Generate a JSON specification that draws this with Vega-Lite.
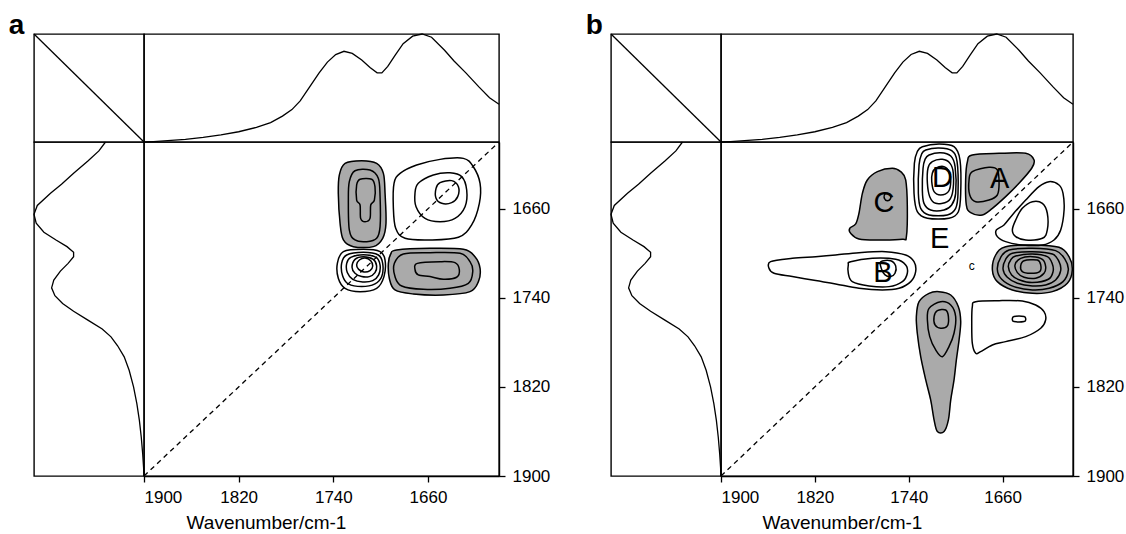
{
"$schema": "https://vega.github.io/schema/vega-lite/v6.json",
"background": "white",
"padding": {"left": 8, "top": 11, "right": 2, "bottom": 2},
"config": {
  "font": "Liberation Sans",
  "view": {"stroke": "black", "strokeWidth": 1.4},
  "axis": {"domainColor": "black", "domainWidth": 1.4, "tickColor": "black", "tickWidth": 1.3, "tickSize": 6, "labelColor": "black", "labelFontSize": 17, "labelPadding": 7, "titleColor": "black", "titleFontSize": 19, "titleFontWeight": "normal", "titlePadding": 8, "grid": false, "format": "d"},
  "title": {"fontSize": 28, "fontWeight": "bold", "anchor": "start", "color": "black", "offset": -9},
  "line": {"color": "black"}
},
"datasets": {
  "spec": [
    {"wn": 1900, "I": 0.0}, {"wn": 1892, "I": 0.004}, {"wn": 1880, "I": 0.012}, {"wn": 1865, "I": 0.025}, {"wn": 1850, "I": 0.042}, {"wn": 1835, "I": 0.065}, {"wn": 1820, "I": 0.095}, {"wn": 1805, "I": 0.135}, {"wn": 1793, "I": 0.18}, {"wn": 1783, "I": 0.24}, {"wn": 1775, "I": 0.30}, {"wn": 1768, "I": 0.38}, {"wn": 1760, "I": 0.51}, {"wn": 1752, "I": 0.64}, {"wn": 1745, "I": 0.74}, {"wn": 1738, "I": 0.81}, {"wn": 1731, "I": 0.84}, {"wn": 1724, "I": 0.82}, {"wn": 1716, "I": 0.76}, {"wn": 1709, "I": 0.69}, {"wn": 1703, "I": 0.64}, {"wn": 1699, "I": 0.64}, {"wn": 1694, "I": 0.70}, {"wn": 1688, "I": 0.80}, {"wn": 1681, "I": 0.91}, {"wn": 1673, "I": 0.98}, {"wn": 1665, "I": 1.0}, {"wn": 1657, "I": 0.97}, {"wn": 1646, "I": 0.85}, {"wn": 1638, "I": 0.75}, {"wn": 1628, "I": 0.64}, {"wn": 1617, "I": 0.51}, {"wn": 1608, "I": 0.41}, {"wn": 1600, "I": 0.35}
  ],
  "ca": [
    {"r":"a1-1","s":"n","l":1,"x":1730.1,"y":1619.2},{"r":"a1-1","s":"n","l":1,"x":1716.0,"y":1616.8},{"r":"a1-1","s":"n","l":1,"x":1703.4,"y":1619.2},{"r":"a1-1","s":"n","l":1,"x":1697.7,"y":1628.2},{"r":"a1-1","s":"n","l":1,"x":1696.3,"y":1646.1},{"r":"a1-1","s":"n","l":1,"x":1695.5,"y":1673.0},{"r":"a1-1","s":"n","l":1,"x":1698.3,"y":1686.5},{"r":"a1-1","s":"n","l":1,"x":1706.2,"y":1694.0},{"r":"a1-1","s":"n","l":1,"x":1723.1,"y":1694.0},{"r":"a1-1","s":"n","l":1,"x":1731.5,"y":1688.0},{"r":"a1-1","s":"n","l":1,"x":1734.3,"y":1673.0},{"r":"a1-1","s":"n","l":1,"x":1735.8,"y":1646.1},{"r":"a1-1","s":"n","l":1,"x":1734.9,"y":1629.6},
    {"r":"a1-2","s":"n","l":2,"x":1721.7,"y":1625.8},{"r":"a1-2","s":"n","l":2,"x":1709.0,"y":1625.2},{"r":"a1-2","s":"n","l":2,"x":1702.0,"y":1632.6},{"r":"a1-2","s":"n","l":2,"x":1700.5,"y":1649.1},{"r":"a1-2","s":"n","l":2,"x":1700.5,"y":1676.0},{"r":"a1-2","s":"n","l":2,"x":1703.4,"y":1686.5},{"r":"a1-2","s":"n","l":2,"x":1711.8,"y":1689.5},{"r":"a1-2","s":"n","l":2,"x":1721.7,"y":1688.0},{"r":"a1-2","s":"n","l":2,"x":1726.5,"y":1679.0},{"r":"a1-2","s":"n","l":2,"x":1727.3,"y":1652.1},{"r":"a1-2","s":"n","l":2,"x":1726.5,"y":1635.6},
    {"r":"a1-3","s":"n","l":3,"x":1717.4,"y":1633.5},{"r":"a1-3","s":"n","l":3,"x":1707.6,"y":1633.5},{"r":"a1-3","s":"n","l":3,"x":1704.8,"y":1640.1},{"r":"a1-3","s":"n","l":3,"x":1705.3,"y":1652.1},{"r":"a1-3","s":"n","l":3,"x":1708.4,"y":1656.6},{"r":"a1-3","s":"n","l":3,"x":1709.0,"y":1668.6},{"r":"a1-3","s":"n","l":3,"x":1713.2,"y":1671.6},{"r":"a1-3","s":"n","l":3,"x":1716.9,"y":1668.6},{"r":"a1-3","s":"n","l":3,"x":1717.4,"y":1656.6},{"r":"a1-3","s":"n","l":3,"x":1720.3,"y":1652.1},{"r":"a1-3","s":"n","l":3,"x":1720.3,"y":1638.6},
    {"r":"a2-1","s":"p","l":1,"x":1683.6,"y":1628.2},{"r":"a2-1","s":"p","l":1,"x":1669.6,"y":1620.7},{"r":"a2-1","s":"p","l":1,"x":1649.8,"y":1615.6},{"r":"a2-1","s":"p","l":1,"x":1630.1,"y":1614.7},{"r":"a2-1","s":"p","l":1,"x":1621.7,"y":1622.2},{"r":"a2-1","s":"p","l":1,"x":1616.0,"y":1637.1},{"r":"a2-1","s":"p","l":1,"x":1616.6,"y":1655.1},{"r":"a2-1","s":"p","l":1,"x":1623.1,"y":1674.5},{"r":"a2-1","s":"p","l":1,"x":1634.3,"y":1685.6},{"r":"a2-1","s":"p","l":1,"x":1658.3,"y":1688.0},{"r":"a2-1","s":"p","l":1,"x":1679.4,"y":1686.5},{"r":"a2-1","s":"p","l":1,"x":1687.3,"y":1677.5},{"r":"a2-1","s":"p","l":1,"x":1689.3,"y":1658.1},{"r":"a2-1","s":"p","l":1,"x":1688.7,"y":1637.1},
    {"r":"a2-2","s":"p","l":2,"x":1668.2,"y":1637.1},{"r":"a2-2","s":"p","l":2,"x":1655.5,"y":1629.6},{"r":"a2-2","s":"p","l":2,"x":1641.4,"y":1627.6},{"r":"a2-2","s":"p","l":2,"x":1631.5,"y":1631.1},{"r":"a2-2","s":"p","l":2,"x":1627.3,"y":1643.1},{"r":"a2-2","s":"p","l":2,"x":1628.7,"y":1658.1},{"r":"a2-2","s":"p","l":2,"x":1637.2,"y":1668.6},{"r":"a2-2","s":"p","l":2,"x":1649.8,"y":1671.6},{"r":"a2-2","s":"p","l":2,"x":1662.5,"y":1668.6},{"r":"a2-2","s":"p","l":2,"x":1670.1,"y":1658.1},{"r":"a2-2","s":"p","l":2,"x":1671.0,"y":1646.1},
    {"r":"a2-3","s":"p","l":3,"x":1649.8,"y":1636.5},{"r":"a2-3","s":"p","l":3,"x":1640.0,"y":1634.7},{"r":"a2-3","s":"p","l":3,"x":1634.3,"y":1640.1},{"r":"a2-3","s":"p","l":3,"x":1634.9,"y":1649.1},{"r":"a2-3","s":"p","l":3,"x":1640.0,"y":1654.5},{"r":"a2-3","s":"p","l":3,"x":1648.4,"y":1655.1},{"r":"a2-3","s":"p","l":3,"x":1653.2,"y":1650.6},{"r":"a2-3","s":"p","l":3,"x":1653.2,"y":1641.6},
    {"r":"a3-1","s":"p","l":1,"x":1731.5,"y":1698.5},{"r":"a3-1","s":"p","l":1,"x":1714.6,"y":1696.4},{"r":"a3-1","s":"p","l":1,"x":1700.5,"y":1698.5},{"r":"a3-1","s":"p","l":1,"x":1696.3,"y":1706.0},{"r":"a3-1","s":"p","l":1,"x":1697.2,"y":1720.9},{"r":"a3-1","s":"p","l":1,"x":1703.4,"y":1731.4},{"r":"a3-1","s":"p","l":1,"x":1717.4,"y":1734.4},{"r":"a3-1","s":"p","l":1,"x":1730.1,"y":1731.4},{"r":"a3-1","s":"p","l":1,"x":1735.8,"y":1722.4},{"r":"a3-1","s":"p","l":1,"x":1736.6,"y":1709.0},
    {"r":"a3-2","s":"p","l":2,"x":1728.7,"y":1701.5},{"r":"a3-2","s":"p","l":2,"x":1714.6,"y":1699.1},{"r":"a3-2","s":"p","l":2,"x":1702.0,"y":1701.5},{"r":"a3-2","s":"p","l":2,"x":1698.3,"y":1709.0},{"r":"a3-2","s":"p","l":2,"x":1699.1,"y":1720.9},{"r":"a3-2","s":"p","l":2,"x":1704.8,"y":1727.5},{"r":"a3-2","s":"p","l":2,"x":1716.0,"y":1729.9},{"r":"a3-2","s":"p","l":2,"x":1727.3,"y":1727.5},{"r":"a3-2","s":"p","l":2,"x":1732.1,"y":1720.3},{"r":"a3-2","s":"p","l":2,"x":1733.0,"y":1709.0},
    {"r":"a3-3","s":"p","l":3,"x":1725.3,"y":1703.6},{"r":"a3-3","s":"p","l":3,"x":1714.6,"y":1701.2},{"r":"a3-3","s":"p","l":3,"x":1703.9,"y":1703.6},{"r":"a3-3","s":"p","l":3,"x":1700.5,"y":1710.5},{"r":"a3-3","s":"p","l":3,"x":1701.7,"y":1719.4},{"r":"a3-3","s":"p","l":3,"x":1706.7,"y":1724.5},{"r":"a3-3","s":"p","l":3,"x":1715.2,"y":1725.7},{"r":"a3-3","s":"p","l":3,"x":1723.6,"y":1723.3},{"r":"a3-3","s":"p","l":3,"x":1728.2,"y":1717.3},{"r":"a3-3","s":"p","l":3,"x":1728.7,"y":1709.0},
    {"r":"a3-4","s":"p","l":4,"x":1721.7,"y":1705.4},{"r":"a3-4","s":"p","l":4,"x":1714.6,"y":1703.0},{"r":"a3-4","s":"p","l":4,"x":1706.2,"y":1705.4},{"r":"a3-4","s":"p","l":4,"x":1703.4,"y":1711.4},{"r":"a3-4","s":"p","l":4,"x":1704.8,"y":1717.3},{"r":"a3-4","s":"p","l":4,"x":1709.6,"y":1720.9},{"r":"a3-4","s":"p","l":4,"x":1716.0,"y":1720.9},{"r":"a3-4","s":"p","l":4,"x":1721.7,"y":1717.9},{"r":"a3-4","s":"p","l":4,"x":1724.2,"y":1712.6},
    {"r":"a3-5","s":"p","l":5,"x":1718.0,"y":1706.0},{"r":"a3-5","s":"p","l":5,"x":1713.2,"y":1704.2},{"r":"a3-5","s":"p","l":5,"x":1708.4,"y":1706.6},{"r":"a3-5","s":"p","l":5,"x":1706.7,"y":1711.4},{"r":"a3-5","s":"p","l":5,"x":1709.0,"y":1715.5},{"r":"a3-5","s":"p","l":5,"x":1714.1,"y":1716.7},{"r":"a3-5","s":"p","l":5,"x":1718.6,"y":1714.4},{"r":"a3-5","s":"p","l":5,"x":1720.3,"y":1710.2},
    {"r":"a4-1","s":"n","l":1,"x":1686.5,"y":1697.0},{"r":"a4-1","s":"n","l":1,"x":1658.3,"y":1695.5},{"r":"a4-1","s":"n","l":1,"x":1630.1,"y":1696.4},{"r":"a4-1","s":"n","l":1,"x":1620.3,"y":1703.0},{"r":"a4-1","s":"n","l":1,"x":1616.0,"y":1713.5},{"r":"a4-1","s":"n","l":1,"x":1617.4,"y":1725.4},{"r":"a4-1","s":"n","l":1,"x":1624.5,"y":1734.4},{"r":"a4-1","s":"n","l":1,"x":1647.0,"y":1737.4},{"r":"a4-1","s":"n","l":1,"x":1672.4,"y":1736.5},{"r":"a4-1","s":"n","l":1,"x":1687.9,"y":1732.9},{"r":"a4-1","s":"n","l":1,"x":1692.7,"y":1722.4},{"r":"a4-1","s":"n","l":1,"x":1693.5,"y":1709.0},{"r":"a4-1","s":"n","l":1,"x":1691.5,"y":1700.6},
    {"r":"a4-2","s":"n","l":2,"x":1680.8,"y":1700.6},{"r":"a4-2","s":"n","l":2,"x":1658.3,"y":1699.4},{"r":"a4-2","s":"n","l":2,"x":1632.9,"y":1700.0},{"r":"a4-2","s":"n","l":2,"x":1624.5,"y":1707.5},{"r":"a4-2","s":"n","l":2,"x":1622.2,"y":1716.4},{"r":"a4-2","s":"n","l":2,"x":1625.9,"y":1726.9},{"r":"a4-2","s":"n","l":2,"x":1641.4,"y":1731.4},{"r":"a4-2","s":"n","l":2,"x":1663.9,"y":1732.3},{"r":"a4-2","s":"n","l":2,"x":1682.2,"y":1729.3},{"r":"a4-2","s":"n","l":2,"x":1687.9,"y":1720.9},{"r":"a4-2","s":"n","l":2,"x":1688.4,"y":1709.0},
    {"r":"a4-3","s":"n","l":3,"x":1669.0,"y":1709.0},{"r":"a4-3","s":"n","l":3,"x":1649.8,"y":1707.5},{"r":"a4-3","s":"n","l":3,"x":1637.2,"y":1708.4},{"r":"a4-3","s":"n","l":3,"x":1633.5,"y":1714.9},{"r":"a4-3","s":"n","l":3,"x":1635.8,"y":1721.5},{"r":"a4-3","s":"n","l":3,"x":1647.0,"y":1723.3},{"r":"a4-3","s":"n","l":3,"x":1658.3,"y":1720.9},{"r":"a4-3","s":"n","l":3,"x":1668.2,"y":1719.4},{"r":"a4-3","s":"n","l":3,"x":1671.0,"y":1714.4}
  ],
  "cb": [
    {"r":"D1","s":"p","l":1,"x":1728.4,"y":1604.2},{"r":"D1","s":"p","l":1,"x":1714.2,"y":1601.8},{"r":"D1","s":"p","l":1,"x":1701.4,"y":1604.2},{"r":"D1","s":"p","l":1,"x":1696.3,"y":1616.2},{"r":"D1","s":"p","l":1,"x":1695.7,"y":1646.1},{"r":"D1","s":"p","l":1,"x":1697.7,"y":1662.6},{"r":"D1","s":"p","l":1,"x":1705.7,"y":1668.5},{"r":"D1","s":"p","l":1,"x":1724.1,"y":1668.5},{"r":"D1","s":"p","l":1,"x":1732.7,"y":1662.6},{"r":"D1","s":"p","l":1,"x":1735.5,"y":1646.1},{"r":"D1","s":"p","l":1,"x":1735.2,"y":1619.2},{"r":"D1","s":"p","l":1,"x":1732.7,"y":1608.7},
    {"r":"D2","s":"p","l":2,"x":1725.5,"y":1607.2},{"r":"D2","s":"p","l":2,"x":1714.2,"y":1605.4},{"r":"D2","s":"p","l":2,"x":1703.4,"y":1607.8},{"r":"D2","s":"p","l":2,"x":1698.8,"y":1617.7},{"r":"D2","s":"p","l":2,"x":1698.0,"y":1646.1},{"r":"D2","s":"p","l":2,"x":1700.0,"y":1659.6},{"r":"D2","s":"p","l":2,"x":1707.1,"y":1665.5},{"r":"D2","s":"p","l":2,"x":1722.7,"y":1665.5},{"r":"D2","s":"p","l":2,"x":1729.8,"y":1659.6},{"r":"D2","s":"p","l":2,"x":1731.8,"y":1646.1},{"r":"D2","s":"p","l":2,"x":1731.2,"y":1620.6},{"r":"D2","s":"p","l":2,"x":1729.0,"y":1610.8},
    {"r":"D3","s":"p","l":3,"x":1722.7,"y":1611.7},{"r":"D3","s":"p","l":3,"x":1712.8,"y":1609.6},{"r":"D3","s":"p","l":3,"x":1704.2,"y":1612.6},{"r":"D3","s":"p","l":3,"x":1700.5,"y":1622.1},{"r":"D3","s":"p","l":3,"x":1700.0,"y":1646.1},{"r":"D3","s":"p","l":3,"x":1703.4,"y":1656.6},{"r":"D3","s":"p","l":3,"x":1709.9,"y":1661.1},{"r":"D3","s":"p","l":3,"x":1721.3,"y":1661.1},{"r":"D3","s":"p","l":3,"x":1727.0,"y":1655.1},{"r":"D3","s":"p","l":3,"x":1728.4,"y":1643.1},{"r":"D3","s":"p","l":3,"x":1727.8,"y":1623.6},{"r":"D3","s":"p","l":3,"x":1726.1,"y":1615.6},
    {"r":"D4","s":"p","l":4,"x":1719.9,"y":1617.7},{"r":"D4","s":"p","l":4,"x":1711.3,"y":1615.6},{"r":"D4","s":"p","l":4,"x":1704.8,"y":1619.2},{"r":"D4","s":"p","l":4,"x":1702.0,"y":1628.1},{"r":"D4","s":"p","l":4,"x":1702.8,"y":1646.1},{"r":"D4","s":"p","l":4,"x":1707.1,"y":1653.6},{"r":"D4","s":"p","l":4,"x":1717.0,"y":1655.1},{"r":"D4","s":"p","l":4,"x":1722.1,"y":1649.1},{"r":"D4","s":"p","l":4,"x":1724.1,"y":1637.1},{"r":"D4","s":"p","l":4,"x":1723.6,"y":1623.6},
    {"r":"D5","s":"p","l":5,"x":1717.0,"y":1623.6},{"r":"D5","s":"p","l":5,"x":1709.9,"y":1622.1},{"r":"D5","s":"p","l":5,"x":1705.7,"y":1626.6},{"r":"D5","s":"p","l":5,"x":1704.2,"y":1635.6},{"r":"D5","s":"p","l":5,"x":1706.2,"y":1644.6},{"r":"D5","s":"p","l":5,"x":1712.8,"y":1647.6},{"r":"D5","s":"p","l":5,"x":1718.4,"y":1644.6},{"r":"D5","s":"p","l":5,"x":1720.4,"y":1635.6},{"r":"D5","s":"p","l":5,"x":1719.9,"y":1628.1},
    {"r":"A1","s":"n","l":1,"x":1685.8,"y":1611.7},{"r":"A1","s":"n","l":1,"x":1663.0,"y":1610.2},{"r":"A1","s":"n","l":1,"x":1640.3,"y":1610.2},{"r":"A1","s":"n","l":1,"x":1633.2,"y":1616.2},{"r":"A1","s":"n","l":1,"x":1635.2,"y":1623.6},{"r":"A1","s":"n","l":1,"x":1646.0,"y":1637.1},{"r":"A1","s":"n","l":1,"x":1657.4,"y":1649.1},{"r":"A1","s":"n","l":1,"x":1668.7,"y":1659.6},{"r":"A1","s":"n","l":1,"x":1677.3,"y":1665.5},{"r":"A1","s":"n","l":1,"x":1687.2,"y":1663.4},{"r":"A1","s":"n","l":1,"x":1690.9,"y":1656.6},{"r":"A1","s":"n","l":1,"x":1691.5,"y":1634.1},{"r":"A1","s":"n","l":1,"x":1690.0,"y":1617.7},
    {"r":"A2","s":"n","l":2,"x":1685.8,"y":1626.6},{"r":"A2","s":"n","l":2,"x":1671.6,"y":1622.7},{"r":"A2","s":"n","l":2,"x":1664.5,"y":1625.1},{"r":"A2","s":"n","l":2,"x":1663.0,"y":1637.1},{"r":"A2","s":"n","l":2,"x":1664.5,"y":1647.6},{"r":"A2","s":"n","l":2,"x":1671.6,"y":1652.1},{"r":"A2","s":"n","l":2,"x":1682.9,"y":1653.6},{"r":"A2","s":"n","l":2,"x":1688.0,"y":1647.6},{"r":"A2","s":"n","l":2,"x":1688.6,"y":1634.1},
    {"r":"C1","s":"n","l":1,"x":1754.0,"y":1623.6},{"r":"C1","s":"n","l":1,"x":1746.9,"y":1626.6},{"r":"C1","s":"n","l":1,"x":1742.6,"y":1634.1},{"r":"C1","s":"n","l":1,"x":1741.2,"y":1658.1},{"r":"C1","s":"n","l":1,"x":1742.0,"y":1685.0},{"r":"C1","s":"n","l":1,"x":1745.4,"y":1687.4},{"r":"C1","s":"n","l":1,"x":1765.3,"y":1688.0},{"r":"C1","s":"n","l":1,"x":1782.4,"y":1687.1},{"r":"C1","s":"n","l":1,"x":1789.5,"y":1682.0},{"r":"C1","s":"n","l":1,"x":1790.3,"y":1677.5},{"r":"C1","s":"n","l":1,"x":1785.2,"y":1673.6},{"r":"C1","s":"n","l":1,"x":1782.4,"y":1664.0},{"r":"C1","s":"n","l":1,"x":1779.5,"y":1646.1},{"r":"C1","s":"n","l":1,"x":1775.3,"y":1634.1},{"r":"C1","s":"n","l":1,"x":1766.7,"y":1626.6},
    {"r":"C2","s":"n","l":2,"x":1760.2,"y":1646.7},{"r":"C2","s":"n","l":2,"x":1756.2,"y":1646.7},{"r":"C2","s":"n","l":2,"x":1755.4,"y":1650.6},{"r":"C2","s":"n","l":2,"x":1758.2,"y":1652.7},{"r":"C2","s":"n","l":2,"x":1760.8,"y":1650.6},
    {"r":"U1","s":"p","l":1,"x":1620.4,"y":1635.6},{"r":"U1","s":"p","l":1,"x":1611.9,"y":1638.6},{"r":"U1","s":"p","l":1,"x":1608.5,"y":1646.1},{"r":"U1","s":"p","l":1,"x":1607.6,"y":1661.1},{"r":"U1","s":"p","l":1,"x":1610.5,"y":1679.0},{"r":"U1","s":"p","l":1,"x":1616.2,"y":1688.0},{"r":"U1","s":"p","l":1,"x":1626.1,"y":1692.5},{"r":"U1","s":"p","l":1,"x":1643.2,"y":1692.5},{"r":"U1","s":"p","l":1,"x":1657.4,"y":1689.5},{"r":"U1","s":"p","l":1,"x":1664.5,"y":1685.0},{"r":"U1","s":"p","l":1,"x":1665.3,"y":1679.0},{"r":"U1","s":"p","l":1,"x":1658.8,"y":1674.5},{"r":"U1","s":"p","l":1,"x":1651.7,"y":1665.5},{"r":"U1","s":"p","l":1,"x":1640.3,"y":1652.1},{"r":"U1","s":"p","l":1,"x":1629.0,"y":1640.1},
    {"r":"U2","s":"p","l":2,"x":1634.6,"y":1653.6},{"r":"U2","s":"p","l":2,"x":1626.1,"y":1655.1},{"r":"U2","s":"p","l":2,"x":1621.9,"y":1664.0},{"r":"U2","s":"p","l":2,"x":1621.9,"y":1679.0},{"r":"U2","s":"p","l":2,"x":1626.1,"y":1686.5},{"r":"U2","s":"p","l":2,"x":1640.3,"y":1688.0},{"r":"U2","s":"p","l":2,"x":1648.8,"y":1685.0},{"r":"U2","s":"p","l":2,"x":1651.7,"y":1679.0},{"r":"U2","s":"p","l":2,"x":1648.8,"y":1670.0},{"r":"U2","s":"p","l":2,"x":1643.2,"y":1659.6},
    {"r":"R1","s":"n","l":1,"x":1657.4,"y":1694.0},{"r":"R1","s":"n","l":1,"x":1634.6,"y":1692.5},{"r":"R1","s":"n","l":1,"x":1611.9,"y":1694.6},{"r":"R1","s":"n","l":1,"x":1603.4,"y":1703.0},{"r":"R1","s":"n","l":1,"x":1600.6,"y":1714.9},{"r":"R1","s":"n","l":1,"x":1604.8,"y":1726.9},{"r":"R1","s":"n","l":1,"x":1617.6,"y":1734.4},{"r":"R1","s":"n","l":1,"x":1634.6,"y":1735.9},{"r":"R1","s":"n","l":1,"x":1651.7,"y":1732.9},{"r":"R1","s":"n","l":1,"x":1664.5,"y":1725.4},{"r":"R1","s":"n","l":1,"x":1668.7,"y":1714.9},{"r":"R1","s":"n","l":1,"x":1665.9,"y":1701.5},
    {"r":"R2","s":"n","l":2,"x":1654.5,"y":1697.0},{"r":"R2","s":"n","l":2,"x":1634.6,"y":1695.5},{"r":"R2","s":"n","l":2,"x":1614.8,"y":1697.6},{"r":"R2","s":"n","l":2,"x":1606.8,"y":1705.4},{"r":"R2","s":"n","l":2,"x":1604.0,"y":1714.9},{"r":"R2","s":"n","l":2,"x":1608.5,"y":1725.4},{"r":"R2","s":"n","l":2,"x":1620.4,"y":1731.4},{"r":"R2","s":"n","l":2,"x":1634.6,"y":1732.9},{"r":"R2","s":"n","l":2,"x":1650.3,"y":1729.9},{"r":"R2","s":"n","l":2,"x":1660.8,"y":1723.3},{"r":"R2","s":"n","l":2,"x":1664.5,"y":1714.3},{"r":"R2","s":"n","l":2,"x":1661.6,"y":1703.6},
    {"r":"R3","s":"n","l":3,"x":1651.7,"y":1700.0},{"r":"R3","s":"n","l":3,"x":1634.6,"y":1698.5},{"r":"R3","s":"n","l":3,"x":1617.6,"y":1700.6},{"r":"R3","s":"n","l":3,"x":1611.9,"y":1707.5},{"r":"R3","s":"n","l":3,"x":1610.5,"y":1715.5},{"r":"R3","s":"n","l":3,"x":1614.8,"y":1723.9},{"r":"R3","s":"n","l":3,"x":1623.3,"y":1728.4},{"r":"R3","s":"n","l":3,"x":1634.6,"y":1729.3},{"r":"R3","s":"n","l":3,"x":1647.4,"y":1726.9},{"r":"R3","s":"n","l":3,"x":1656.0,"y":1721.5},{"r":"R3","s":"n","l":3,"x":1659.6,"y":1714.3},{"r":"R3","s":"n","l":3,"x":1657.4,"y":1705.4},
    {"r":"R4","s":"n","l":4,"x":1648.8,"y":1702.4},{"r":"R4","s":"n","l":4,"x":1634.6,"y":1700.6},{"r":"R4","s":"n","l":4,"x":1621.9,"y":1703.0},{"r":"R4","s":"n","l":4,"x":1617.6,"y":1709.6},{"r":"R4","s":"n","l":4,"x":1617.0,"y":1716.4},{"r":"R4","s":"n","l":4,"x":1621.0,"y":1723.3},{"r":"R4","s":"n","l":4,"x":1634.6,"y":1726.3},{"r":"R4","s":"n","l":4,"x":1645.4,"y":1723.9},{"r":"R4","s":"n","l":4,"x":1652.3,"y":1719.4},{"r":"R4","s":"n","l":4,"x":1655.1,"y":1711.9},{"r":"R4","s":"n","l":4,"x":1653.1,"y":1706.0},
    {"r":"R5","s":"n","l":5,"x":1644.6,"y":1704.5},{"r":"R5","s":"n","l":5,"x":1634.6,"y":1703.0},{"r":"R5","s":"n","l":5,"x":1626.1,"y":1705.4},{"r":"R5","s":"n","l":5,"x":1623.3,"y":1711.9},{"r":"R5","s":"n","l":5,"x":1624.7,"y":1717.9},{"r":"R5","s":"n","l":5,"x":1631.8,"y":1722.4},{"r":"R5","s":"n","l":5,"x":1641.7,"y":1721.5},{"r":"R5","s":"n","l":5,"x":1647.4,"y":1717.3},{"r":"R5","s":"n","l":5,"x":1649.4,"y":1710.4},
    {"r":"R6","s":"n","l":6,"x":1641.7,"y":1706.6},{"r":"R6","s":"n","l":6,"x":1630.4,"y":1706.0},{"r":"R6","s":"n","l":6,"x":1627.5,"y":1710.4},{"r":"R6","s":"n","l":6,"x":1628.4,"y":1716.4},{"r":"R6","s":"n","l":6,"x":1636.1,"y":1717.9},{"r":"R6","s":"n","l":6,"x":1643.2,"y":1716.4},{"r":"R6","s":"n","l":6,"x":1644.6,"y":1711.3},
    {"r":"V1","s":"n","l":1,"x":1714.2,"y":1734.4},{"r":"V1","s":"n","l":1,"x":1704.2,"y":1737.4},{"r":"V1","s":"n","l":1,"x":1697.7,"y":1747.9},{"r":"V1","s":"n","l":1,"x":1695.7,"y":1761.3},{"r":"V1","s":"n","l":1,"x":1697.1,"y":1777.8},{"r":"V1","s":"n","l":1,"x":1699.4,"y":1795.7},{"r":"V1","s":"n","l":1,"x":1701.4,"y":1813.7},{"r":"V1","s":"n","l":1,"x":1704.2,"y":1831.7},{"r":"V1","s":"n","l":1,"x":1706.2,"y":1849.6},{"r":"V1","s":"n","l":1,"x":1709.9,"y":1860.1},{"r":"V1","s":"n","l":1,"x":1715.6,"y":1860.1},{"r":"V1","s":"n","l":1,"x":1718.4,"y":1849.6},{"r":"V1","s":"n","l":1,"x":1721.3,"y":1831.7},{"r":"V1","s":"n","l":1,"x":1725.5,"y":1813.7},{"r":"V1","s":"n","l":1,"x":1729.8,"y":1792.8},{"r":"V1","s":"n","l":1,"x":1732.7,"y":1771.8},{"r":"V1","s":"n","l":1,"x":1733.5,"y":1756.8},{"r":"V1","s":"n","l":1,"x":1731.2,"y":1743.4},{"r":"V1","s":"n","l":1,"x":1722.7,"y":1735.9},
    {"r":"V2","s":"n","l":2,"x":1712.8,"y":1743.4},{"r":"V2","s":"n","l":2,"x":1704.2,"y":1746.4},{"r":"V2","s":"n","l":2,"x":1700.0,"y":1756.8},{"r":"V2","s":"n","l":2,"x":1701.4,"y":1771.8},{"r":"V2","s":"n","l":2,"x":1705.7,"y":1783.8},{"r":"V2","s":"n","l":2,"x":1711.3,"y":1792.8},{"r":"V2","s":"n","l":2,"x":1717.0,"y":1786.8},{"r":"V2","s":"n","l":2,"x":1722.1,"y":1774.8},{"r":"V2","s":"n","l":2,"x":1724.1,"y":1759.8},{"r":"V2","s":"n","l":2,"x":1722.7,"y":1749.4},
    {"r":"V3","s":"n","l":3,"x":1715.6,"y":1751.5},{"r":"V3","s":"n","l":3,"x":1708.5,"y":1750.9},{"r":"V3","s":"n","l":3,"x":1706.2,"y":1756.8},{"r":"V3","s":"n","l":3,"x":1707.1,"y":1765.2},{"r":"V3","s":"n","l":3,"x":1712.8,"y":1767.3},{"r":"V3","s":"n","l":3,"x":1717.6,"y":1764.3},{"r":"V3","s":"n","l":3,"x":1718.4,"y":1756.8},
    {"r":"W1","s":"p","l":1,"x":1682.9,"y":1743.4},{"r":"W1","s":"p","l":1,"x":1663.0,"y":1742.5},{"r":"W1","s":"p","l":1,"x":1643.2,"y":1742.8},{"r":"W1","s":"p","l":1,"x":1631.8,"y":1746.4},{"r":"W1","s":"p","l":1,"x":1624.7,"y":1752.3},{"r":"W1","s":"p","l":1,"x":1623.3,"y":1759.8},{"r":"W1","s":"p","l":1,"x":1627.5,"y":1767.3},{"r":"W1","s":"p","l":1,"x":1640.3,"y":1774.8},{"r":"W1","s":"p","l":1,"x":1657.4,"y":1779.3},{"r":"W1","s":"p","l":1,"x":1668.7,"y":1782.3},{"r":"W1","s":"p","l":1,"x":1678.7,"y":1788.3},{"r":"W1","s":"p","l":1,"x":1682.9,"y":1789.8},{"r":"W1","s":"p","l":1,"x":1685.8,"y":1780.8},{"r":"W1","s":"p","l":1,"x":1686.3,"y":1762.8},{"r":"W1","s":"p","l":1,"x":1685.8,"y":1747.9},
    {"r":"W2","s":"p","l":2,"x":1650.3,"y":1756.8},{"r":"W2","s":"p","l":2,"x":1641.7,"y":1756.8},{"r":"W2","s":"p","l":2,"x":1640.3,"y":1759.2},{"r":"W2","s":"p","l":2,"x":1641.7,"y":1761.3},{"r":"W2","s":"p","l":2,"x":1650.3,"y":1761.3},{"r":"W2","s":"p","l":2,"x":1651.7,"y":1759.2},
    {"r":"B1","s":"p","l":1,"x":1857.7,"y":1707.5},{"r":"B1","s":"p","l":1,"x":1839.2,"y":1704.5},{"r":"B1","s":"p","l":1,"x":1819.3,"y":1703.0},{"r":"B1","s":"p","l":1,"x":1802.3,"y":1701.5},{"r":"B1","s":"p","l":1,"x":1782.4,"y":1699.4},{"r":"B1","s":"p","l":1,"x":1759.6,"y":1698.5},{"r":"B1","s":"p","l":1,"x":1742.6,"y":1701.5},{"r":"B1","s":"p","l":1,"x":1735.5,"y":1707.5},{"r":"B1","s":"p","l":1,"x":1734.1,"y":1716.4},{"r":"B1","s":"p","l":1,"x":1738.3,"y":1725.4},{"r":"B1","s":"p","l":1,"x":1748.3,"y":1731.4},{"r":"B1","s":"p","l":1,"x":1762.5,"y":1732.9},{"r":"B1","s":"p","l":1,"x":1782.4,"y":1731.4},{"r":"B1","s":"p","l":1,"x":1802.3,"y":1727.5},{"r":"B1","s":"p","l":1,"x":1819.3,"y":1724.5},{"r":"B1","s":"p","l":1,"x":1839.2,"y":1720.9},{"r":"B1","s":"p","l":1,"x":1854.8,"y":1717.9},{"r":"B1","s":"p","l":1,"x":1859.1,"y":1713.4},
    {"r":"B2","s":"p","l":2,"x":1789.5,"y":1707.5},{"r":"B2","s":"p","l":2,"x":1771.0,"y":1704.5},{"r":"B2","s":"p","l":2,"x":1751.1,"y":1705.4},{"r":"B2","s":"p","l":2,"x":1742.6,"y":1710.4},{"r":"B2","s":"p","l":2,"x":1741.2,"y":1717.9},{"r":"B2","s":"p","l":2,"x":1745.4,"y":1725.4},{"r":"B2","s":"p","l":2,"x":1756.8,"y":1729.9},{"r":"B2","s":"p","l":2,"x":1773.8,"y":1729.3},{"r":"B2","s":"p","l":2,"x":1788.1,"y":1725.4},{"r":"B2","s":"p","l":2,"x":1791.5,"y":1717.9},{"r":"B2","s":"p","l":2,"x":1791.5,"y":1710.4},
    {"r":"B3","s":"p","l":3,"x":1763.9,"y":1707.5},{"r":"B3","s":"p","l":3,"x":1755.4,"y":1706.6},{"r":"B3","s":"p","l":3,"x":1751.1,"y":1711.3},{"r":"B3","s":"p","l":3,"x":1751.7,"y":1717.9},{"r":"B3","s":"p","l":3,"x":1755.4,"y":1720.9},{"r":"B3","s":"p","l":3,"x":1760.2,"y":1719.4},{"r":"B3","s":"p","l":3,"x":1763.1,"y":1714.3}
  ],
  "lab": [
    {"t": "A", "x": 1662.5, "y": 1633.5}, {"t": "D", "x": 1711.3, "y": 1632.6}, {"t": "C", "x": 1761.1, "y": 1654.5}, {"t": "E", "x": 1713.6, "y": 1687.4}, {"t": "B", "x": 1761.9, "y": 1717.9}
  ],
  "small": [{"t": "c", "x": 1686.3, "y": 1711.3}]
},
"spacing": 34,
"hconcat": [
  {
    "title": {"text": "a", "dx": -22},
    "columns": 2,
    "spacing": 0,
    "bounds": "flush",
    "concat": [
        {"width": 110, "height": 108, "data": {"values": [{}]},
         "mark": {"type": "rule", "color": "black", "strokeWidth": 1.3},
         "encoding": {"x": {"datum": 0, "type": "quantitative", "scale": {"domain": [0, 1]}, "axis": null}, "y": {"datum": 1, "type": "quantitative", "scale": {"domain": [0, 1]}, "axis": null}, "x2": {"datum": 1}, "y2": {"datum": 0}}},
        {"width": 355, "height": 108, "data": {"name": "spec"},
         "mark": {"type": "line", "color": "black", "strokeWidth": 1.3},
         "encoding": {"x": {"field": "wn", "type": "quantitative", "scale": {"domain": [1600, 1900], "reverse": true, "nice": false, "zero": false}, "axis": null}, "y": {"field": "I", "type": "quantitative", "scale": {"domain": [0, 1], "nice": false}, "axis": null}}},
        {"width": 110, "height": 334, "data": {"name": "spec"},
         "mark": {"type": "line", "color": "black", "strokeWidth": 1.3},
         "encoding": {"x": {"field": "I", "type": "quantitative", "scale": {"domain": [0, 1], "reverse": true, "nice": false}, "axis": null}, "y": {"field": "wn", "type": "quantitative", "scale": {"domain": [1600, 1900], "reverse": true, "nice": false, "zero": false}, "axis": null}, "order": {"field": "wn"}}},
        {"width": 355, "height": 334,
         "layer": [
           {"data": {"name": "ca"}, "transform": [{"filter": "datum.s == 'n' && datum.l == 1"}],
            "mark": {"type": "line", "interpolate": "cardinal-closed", "fill": "#aaaaaa", "stroke": "#aaaaaa", "strokeWidth": 0.5},
            "encoding": {
              "x": {"field": "x", "type": "quantitative", "scale": {"domain": [1600, 1900], "reverse": true, "nice": false, "zero": false}, "axis": {"values": [1900, 1820, 1740, 1660], "title": "Wavenumber/cm-1", "titleX": 122}},
              "y": {"field": "y", "type": "quantitative", "scale": {"domain": [1600, 1900], "reverse": true, "nice": false, "zero": false}, "axis": {"orient": "right", "values": [1660, 1740, 1820, 1900], "title": null}},
              "detail": {"field": "r"}, "order": {"value": null}}},
           {"data": {"name": "ca"},
            "mark": {"type": "line", "interpolate": "cardinal-closed", "stroke": "black", "strokeWidth": 1.5},
            "encoding": {"x": {"field": "x", "type": "quantitative"}, "y": {"field": "y", "type": "quantitative"}, "detail": {"field": "r"}, "order": {"value": null}}},
           {"data": {"values": [{}]},
            "mark": {"type": "rule", "color": "black", "strokeWidth": 1.3, "strokeDash": [5, 4]},
            "encoding": {"x": {"datum": 1900, "type": "quantitative"}, "y": {"datum": 1900, "type": "quantitative"}, "x2": {"datum": 1600}, "y2": {"datum": 1600}}}
         ]}
    ]
  },
  {
    "title": {"text": "b", "dx": -22},
    "columns": 2,
    "spacing": 0,
    "bounds": "flush",
    "concat": [
        {"width": 110, "height": 108, "data": {"values": [{}]},
         "mark": {"type": "rule", "color": "black", "strokeWidth": 1.3},
         "encoding": {"x": {"datum": 0, "type": "quantitative", "scale": {"domain": [0, 1]}, "axis": null}, "y": {"datum": 1, "type": "quantitative", "scale": {"domain": [0, 1]}, "axis": null}, "x2": {"datum": 1}, "y2": {"datum": 0}}},
        {"width": 352, "height": 108, "data": {"name": "spec"},
         "mark": {"type": "line", "color": "black", "strokeWidth": 1.3},
         "encoding": {"x": {"field": "wn", "type": "quantitative", "scale": {"domain": [1600, 1900], "reverse": true, "nice": false, "zero": false}, "axis": null}, "y": {"field": "I", "type": "quantitative", "scale": {"domain": [0, 1], "nice": false}, "axis": null}}},
        {"width": 110, "height": 334, "data": {"name": "spec"},
         "mark": {"type": "line", "color": "black", "strokeWidth": 1.3},
         "encoding": {"x": {"field": "I", "type": "quantitative", "scale": {"domain": [0, 1], "reverse": true, "nice": false}, "axis": null}, "y": {"field": "wn", "type": "quantitative", "scale": {"domain": [1600, 1900], "reverse": true, "nice": false, "zero": false}, "axis": null}, "order": {"field": "wn"}}},
        {"width": 352, "height": 334,
         "layer": [
           {"data": {"name": "cb"}, "transform": [{"filter": "datum.s == 'n' && datum.l == 1"}],
            "mark": {"type": "line", "interpolate": "cardinal-closed", "fill": "#aaaaaa", "stroke": "#aaaaaa", "strokeWidth": 0.5},
            "encoding": {
              "x": {"field": "x", "type": "quantitative", "scale": {"domain": [1600, 1900], "reverse": true, "nice": false, "zero": false}, "axis": {"values": [1900, 1820, 1740, 1660], "title": "Wavenumber/cm-1", "titleX": 121}},
              "y": {"field": "y", "type": "quantitative", "scale": {"domain": [1600, 1900], "reverse": true, "nice": false, "zero": false}, "axis": {"orient": "right", "values": [1660, 1740, 1820, 1900], "title": null}},
              "detail": {"field": "r"}, "order": {"value": null}}},
           {"data": {"name": "cb"},
            "mark": {"type": "line", "interpolate": "cardinal-closed", "stroke": "black", "strokeWidth": 1.5},
            "encoding": {"x": {"field": "x", "type": "quantitative"}, "y": {"field": "y", "type": "quantitative"}, "detail": {"field": "r"}, "order": {"value": null}}},
           {"data": {"values": [{}]},
            "mark": {"type": "rule", "color": "black", "strokeWidth": 1.3, "strokeDash": [5, 4]},
            "encoding": {"x": {"datum": 1900, "type": "quantitative"}, "y": {"datum": 1900, "type": "quantitative"}, "x2": {"datum": 1600}, "y2": {"datum": 1600}}},
           {"data": {"name": "lab"},
            "mark": {"type": "text", "fontSize": 29, "color": "black", "align": "center", "baseline": "middle"},
            "encoding": {"x": {"field": "x", "type": "quantitative"}, "y": {"field": "y", "type": "quantitative"}, "text": {"field": "t"}}},
           {"data": {"name": "small"},
            "mark": {"type": "text", "fontSize": 12, "color": "black", "align": "center", "baseline": "middle"},
            "encoding": {"x": {"field": "x", "type": "quantitative"}, "y": {"field": "y", "type": "quantitative"}, "text": {"field": "t"}}}
         ]}
    ]
  }
]
}
